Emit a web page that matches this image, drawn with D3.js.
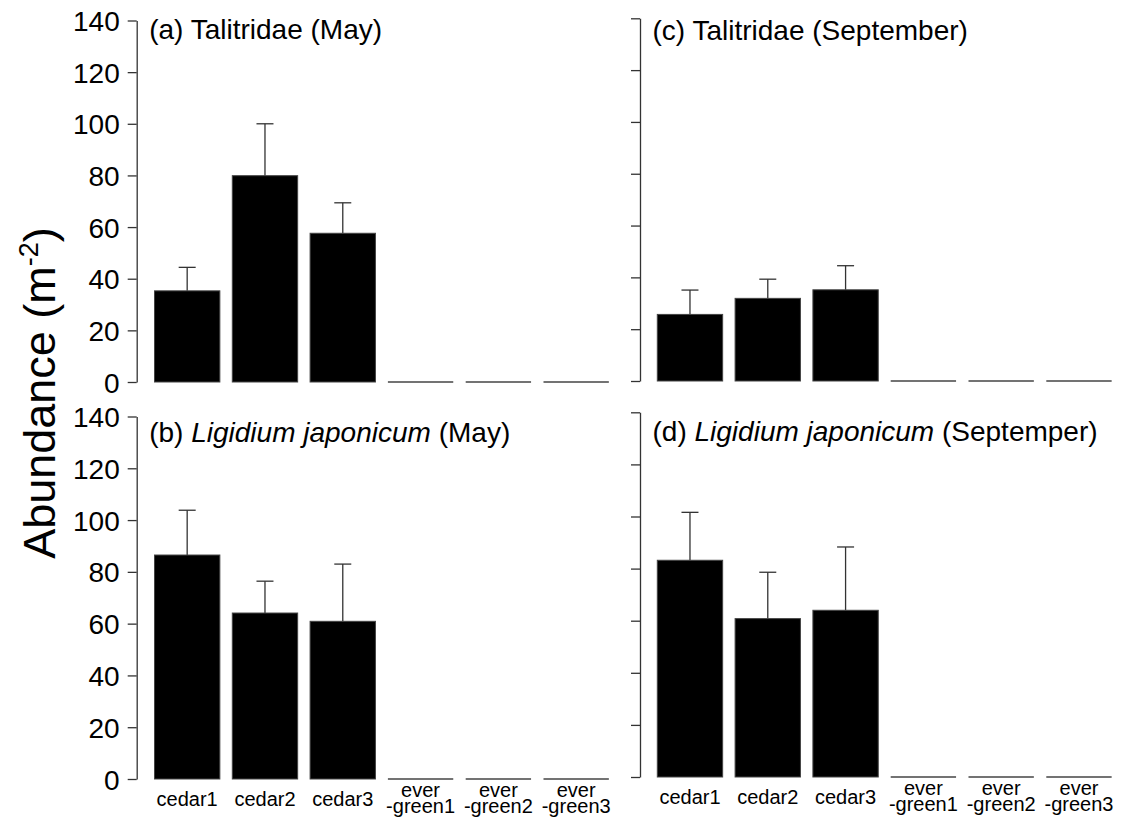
<!DOCTYPE html>
<html>
<head>
<meta charset="utf-8">
<script src="https://cdn.jsdelivr.net/npm/d3@7"></script>
<style>
  body { margin: 0; background: #fff; }
  text { font-family: "Liberation Sans", Arial, sans-serif; fill: #000; }
</style>
</head>
<body>
<script>
// Sites (x categories) and their printed labels
var sites = ["cedar1", "cedar2", "cedar3", "evergreen1", "evergreen2", "evergreen3"];
var siteLabels = [["cedar1"], ["cedar2"], ["cedar3"], ["ever", "-green1"], ["ever", "-green2"], ["ever", "-green3"]];
var yTicks = [0, 20, 40, 60, 80, 100, 120, 140];

// Mean abundance and standard error per site, one pair of arrays per panel
var talitridaeMayMean = [35.3, 79.9, 57.6, 0, 0, 0];
var talitridaeMaySE   = [9.1, 20.1, 11.8, 0, 0, 0];
var ligidiumMayMean   = [86.5, 64.1, 60.9, 0, 0, 0];
var ligidiumMaySE     = [17.3, 12.3, 22.1, 0, 0, 0];
var talitridaeSepMean = [25.7, 31.9, 35.2, 0, 0, 0];
var talitridaeSepSE   = [9.4, 7.4, 9.3, 0, 0, 0];
var ligidiumSepMean   = [83.2, 60.8, 64.0, 0, 0, 0];
var ligidiumSepSE     = [18.4, 17.8, 24.3, 0, 0, 0];

var svg_width = 1123;
var svg_height = 822;

var svg = d3.select("body").append("svg")
  .attr("width", svg_width)
  .attr("height", svg_height);

// Panel layout (pixel positions of each sub-plot)
var panels = [
  { tag: "(a) ", name: "Talitridae", italic: false, month: " (May)", mean: talitridaeMayMean, se: talitridaeMaySE,
    axisX: 136.7, x0: 154.5, yBottom: 382, yTop: 20.5, titleDy: 18.8, yLabels: true, xLabels: false },
  { tag: "(b) ", name: "Ligidium japonicum", italic: true, month: " (May)", mean: ligidiumMayMean, se: ligidiumMaySE,
    axisX: 136.7, x0: 154.5, yBottom: 779, yTop: 416.5, titleDy: 25.5, yLabels: true, xLabels: true },
  { tag: "(c) ", name: "Talitridae", italic: false, month: " (September)", mean: talitridaeSepMean, se: talitridaeSepSE,
    axisX: 640, x0: 657.3, yBottom: 381, yTop: 18.3, titleDy: 21.7, yLabels: false, xLabels: false },
  { tag: "(d) ", name: "Ligidium japonicum", italic: true, month: " (Septemper)", mean: ligidiumSepMean, se: ligidiumSepSE,
    axisX: 640, x0: 657.3, yBottom: 777, yTop: 412.3, titleDy: 28.7, yLabels: false, xLabels: true }
];

var step = 77.8;
var capHalf = 8.5;
var axisColor = "#333";

panels.forEach(function(p) {
  var x = d3.scaleBand()
    .domain(sites)
    .range([p.x0, p.x0 + step * 5.84])
    .paddingInner(0.16)
    .paddingOuter(0);

  var y = d3.scaleLinear()
    .domain([0, 140])
    .range([p.yBottom, p.yTop]);

  var g = svg.append("g");

  // y axis
  var yAxis = d3.axisLeft(y)
    .tickValues(yTicks)
    .tickSize(9)
    .tickPadding(8)
    .tickSizeOuter(0)
    .tickFormat(p.yLabels ? d3.format("d") : "");

  var ax = g.append("g")
    .attr("transform", "translate(" + p.axisX + ",0)")
    .call(yAxis);
  ax.select(".domain").attr("stroke", axisColor).attr("stroke-width", 1.3);
  ax.selectAll(".tick line").attr("stroke", axisColor).attr("stroke-width", 1.3);
  ax.selectAll(".tick text")
    .attr("font-size", 28)
    .attr("font-family", "Liberation Sans, Arial, sans-serif")
    .attr("fill", "#000")
    .attr("dy", "0.36em");

  // error bars (upper only)
  var eb = g.selectAll("g.err")
    .data(sites.filter(function(d, i) { return p.se[i] > 0; }))
    .enter()
    .append("g")
    .attr("class", "err");
  eb.append("line")
    .attr("x1", function(d) { return x(d) + x.bandwidth() / 2; })
    .attr("x2", function(d) { return x(d) + x.bandwidth() / 2; })
    .attr("y1", function(d) { var i = sites.indexOf(d); return y(p.mean[i]); })
    .attr("y2", function(d) { var i = sites.indexOf(d); return y(p.mean[i] + p.se[i]); })
    .attr("stroke", axisColor)
    .attr("stroke-width", 1.3);
  eb.append("line")
    .attr("x1", function(d) { return x(d) + x.bandwidth() / 2 - capHalf; })
    .attr("x2", function(d) { return x(d) + x.bandwidth() / 2 + capHalf; })
    .attr("y1", function(d) { var i = sites.indexOf(d); return y(p.mean[i] + p.se[i]); })
    .attr("y2", function(d) { var i = sites.indexOf(d); return y(p.mean[i] + p.se[i]); })
    .attr("stroke", axisColor)
    .attr("stroke-width", 1.3);

  // bars
  g.selectAll("rect.bar")
    .data(sites)
    .enter()
    .append("rect")
    .attr("class", "bar")
    .attr("x", function(d) { return x(d); })
    .attr("y", function(d, i) { return y(p.mean[i]); })
    .attr("width", x.bandwidth())
    .attr("height", function(d, i) { return y(0) - y(p.mean[i]); })
    .attr("fill", "#000")
    .attr("stroke", "#444")
    .attr("stroke-width", 1);

  // zero-height bars still show as a flat line
  g.selectAll("line.zero-bar")
    .data(sites.filter(function(d, i) { return p.mean[i] === 0; }))
    .enter()
    .append("line")
    .attr("class", "zero-bar")
    .attr("x1", function(d) { return x(d); })
    .attr("x2", function(d) { return x(d) + x.bandwidth(); })
    .attr("y1", y(0))
    .attr("y2", y(0))
    .attr("stroke", "#444")
    .attr("stroke-width", 1.5);

  // panel title
  var title = g.append("text")
    .attr("x", p.axisX + 12.5)
    .attr("y", p.yTop + p.titleDy)
    .attr("font-size", 28);
  title.append("tspan").text(p.tag);
  title.append("tspan").attr("font-style", p.italic ? "italic" : "normal").text(p.name);
  title.append("tspan").text(p.month);

  // x labels
  if (p.xLabels) {
    var lab = g.selectAll("text.x-label")
      .data(sites)
      .enter()
      .append("text")
      .attr("class", "x-label")
      .attr("text-anchor", "middle")
      .attr("font-size", 20);
    lab.each(function(d, i) {
      var lines = siteLabels[i];
      var cx = x(d) + x.bandwidth() / 2;
      var t = d3.select(this);
      if (lines.length === 1) {
        t.append("tspan").attr("x", cx).attr("y", p.yBottom + 27).text(lines[0]);
      } else {
        t.append("tspan").attr("x", cx).attr("y", p.yBottom + 18).text(lines[0]);
        t.append("tspan").attr("x", cx).attr("y", p.yBottom + 34).text(lines[1]);
      }
    });
  }
});

// Shared y-axis title
var yt = svg.append("text")
  .attr("text-anchor", "middle")
  .attr("font-size", 45)
  .attr("transform", "translate(55,393) rotate(-90)");
yt.append("tspan").text("Abundance (m");
yt.append("tspan").attr("font-size", 27).attr("dy", -17).text("-2");
yt.append("tspan").attr("dy", 17).text(")");
</script>
</body>
</html>
